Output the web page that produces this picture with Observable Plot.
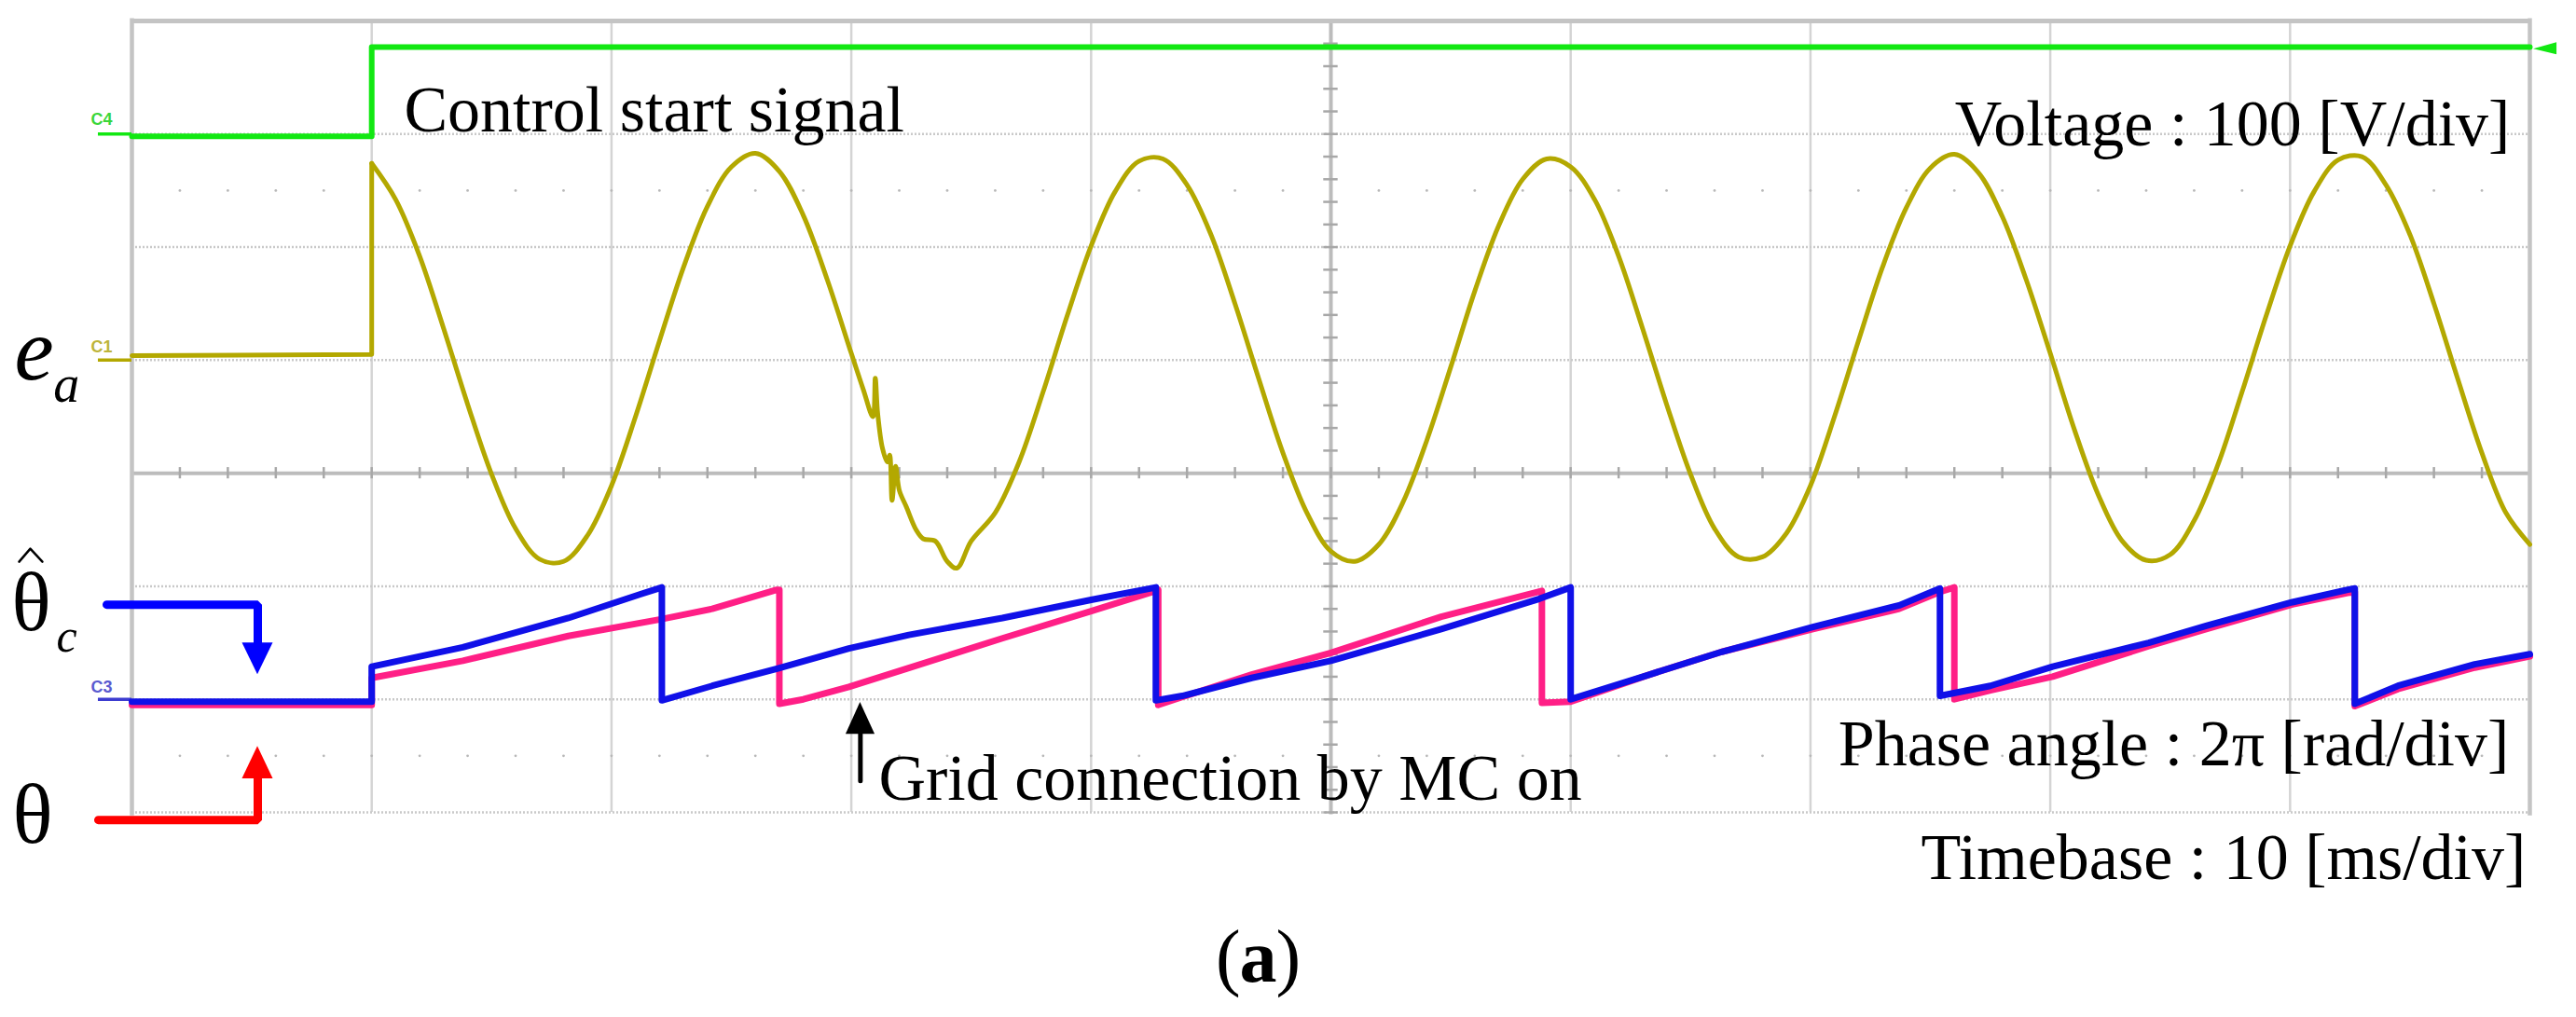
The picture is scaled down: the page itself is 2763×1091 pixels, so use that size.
<!DOCTYPE html>
<html>
<head>
<meta charset="utf-8">
<script src="https://cdn.jsdelivr.net/npm/d3@7"></script>
<script src="https://cdn.jsdelivr.net/npm/@observablehq/plot@0.6"></script>
<style>
html, body { margin: 0; padding: 0; background: #ffffff; }
#chart svg { display: block; }
</style>
</head>
<body>
<div id="chart"></div>
<script>
// ---------------- channel settings (oscilloscope) ----------------
const V_PER_DIV = 100;            // Voltage : 100 [V/div]
const RAD_PER_DIV = 2 * Math.PI;  // Phase angle : 2π [rad/div]
const CTRL_V_PER_DIV = 5;         // control signal channel
const C4_ZERO = 3, C1_ZERO = 1, C3_ZERO = -2; // ground markers (div)

// ---------------- C4 : control start signal ----------------
const ctrlTime  = [0, 10, 10, 100];            // ms
const ctrlVolts = [-0.1, -0.1, 3.85, 3.85];    // V

// ---------------- C1 : e_a (grid voltage) ----------------
const preTime  = [0, 10, 10];
const preVolts = [4, 5, 174];
const eaTime = [
  10, 11, 12, 13, 14, 15, 16, 17, 18, 19,
  20, 21, 22, 23, 24, 25, 26, 27, 28, 29,
  30, 30.5, 30.9, 31.0, 31.1, 31.3, 31.5, 31.6, 31.7, 31.85,
  32.0, 32.3, 32.7, 33.0, 33.5, 34.0, 34.4, 35, 36, 37,
  38, 39, 40, 41, 42, 43, 44, 45, 46, 47,
  48, 49, 50, 51, 52, 53, 54, 55, 56, 57,
  58, 59, 60, 61, 62, 63, 64, 65, 66, 67,
  68, 69, 70, 71, 72, 73, 74, 75, 76, 77,
  78, 79, 80, 81, 82, 83, 84, 85, 86, 87,
  88, 89, 90, 91, 92, 93, 94, 95, 96, 97,
  98, 99, 100
];
const eaVolts = [
  174, 142, 92, 28, -39, -101, -149, -176, -178, -155,
  -111, -50, 17, 82, 136, 171, 183, 167, 128, 71,
  6, -26, -50, -16, -47, -78, -90, -84, -124, -94,
  -115, -130, -150, -158, -160, -178, -184, -160, -135, -90,
  -28, 39, 101, 149, 176, 178, 155, 111, 50, -17,
  -82, -135, -169, -178, -163, -126, -71, -6, 61, 119,
  160, 178, 171, 142, 92, 28, -39, -101, -149, -174,
  -174, -153, -111, -50, 17, 82, 135, 170, 182, 166,
  127, 71, 6, -61, -119, -160, -177, -172, -142, -92,
  -28, 39, 101, 149, 177, 180, 155, 111, 50, -17,
  -82, -135, -163
];

// ---------------- C3 : phase angles ----------------
// estimated phase (blue)
const thetaHatTime = [0, 10, 10, 13.8, 18.2, 21.2, 22.1, 22.1, 24.2, 26.9, 29.9, 32.4, 36.3, 40.0, 42.7, 42.7,
  43.8, 46.7, 50.0, 54.6, 58.7, 60.0, 60.0, 63.3, 66.3, 70.1, 73.7, 75.4, 75.4, 77.5, 80.1, 84.1, 86.5, 90.1,
  92.4, 92.7, 92.7, 94.5, 97.7, 100];
const thetaHatRad = [-0.13, -0.13, 1.82, 2.89, 4.52, 5.84, 6.22, -0.06, 0.75, 1.70, 2.83, 3.58, 4.52, 5.53, 6.22, -0.06,
  0.19, 1.19, 2.14, 3.90, 5.59, 6.22, 0.00, 1.38, 2.64, 4.02, 5.22, 6.16, 0.19, 0.75, 1.82, 3.14, 4.08, 5.40,
  6.09, 6.16, -0.25, 0.75, 1.95, 2.51];
// grid phase (pink)
const thetaTime = [0, 10, 10, 13.8, 18.2, 22.1, 24.2, 26.9, 27.0, 27.0, 28.0, 29.9, 32.3, 36.3, 40.0, 42.7, 42.8, 42.8,
  43.8, 46.7, 50.0, 54.6, 58.8, 58.8, 60.0, 63.3, 66.3, 70.1, 73.7, 75.4, 76.0, 76.0, 77.5, 80.1, 84.1, 86.5,
  90.1, 92.4, 92.7, 92.7, 94.5, 97.7, 100];
const thetaRad = [-0.31, -0.31, 1.19, 2.14, 3.52, 4.46, 5.03, 6.09, 6.09, -0.25, 0.00, 0.69, 1.70, 3.39, 4.90, 6.03, 6.09, -0.31,
  0.13, 1.38, 2.58, 4.59, 6.03, -0.19, -0.13, 1.38, 2.64, 3.90, 5.03, 5.97, 6.22, 0.00, 0.50, 1.26, 2.95, 3.90,
  5.28, 5.91, 5.97, -0.38, 0.57, 1.76, 2.39];

// ---------------- text ----------------
const labelsStart = [
  {t: 11.35, d: 3.026, text: "Control start signal"},
  {t: 31.14, d: -2.886, text: "Grid connection by MC on"}
];
const labelsEnd = [
  {t: 99.18, d: 2.902, text: "Voltage : 100 [V/div]"},
  {t: 99.14, d: -2.581, text: "Phase angle : 2π [rad/div]"},
  {t: 99.84, d: -3.586, text: "Timebase : 10 [ms/div]"}
];

// ---------------- colours ----------------
const GREEN = "#12e812", OLIVE = "#b3a800", BLUE = "#1010e8", PINK = "#ff1f86";
const SERIF = "Liberation Serif, Times New Roman, serif";

// ---------------- build tables ----------------
const ctrl = ctrlTime.map((t, i) => ({t, y: C4_ZERO + ctrlVolts[i] / CTRL_V_PER_DIV}));
const pre = preTime.map((t, i) => ({t, y: C1_ZERO + preVolts[i] / V_PER_DIV}));
const ea = eaTime.map((t, i) => ({t, y: C1_ZERO + eaVolts[i] / V_PER_DIV}));
const thHat = thetaHatTime.map((t, i) => ({t, y: C3_ZERO + thetaHatRad[i] / RAD_PER_DIV}));
const th = thetaTime.map((t, i) => ({t, y: C3_ZERO + thetaRad[i] / RAD_PER_DIV}));

const vDiv = [10, 20, 30, 40, 60, 70, 80, 90];
const hDiv = [3, 2, 1, -1, -2, -3];
const xMinor = d3.range(2, 100, 2);
const yMinor = d3.range(-3, 4.01, 0.2).map(v => Math.round(v * 10) / 10).filter(v => v !== 0);
const dotRows = xMinor.flatMap(t => [{t, y: 2.5}, {t, y: -2.5}]);

const GRID = "#c9c9c9";

const chart = Plot.plot({
  width: 2763,
  height: 1091,
  marginLeft: 141,
  marginRight: 50,
  marginTop: 22,
  marginBottom: 220,
  x: {domain: [0, 100], axis: null},
  y: {domain: [-3, 4], axis: null},
  style: {background: "#ffffff", overflow: "visible"},
  marks: [
    // graticule
    Plot.ruleX(vDiv, {y1: -3, y2: 4, stroke: "#d4d4d4", strokeWidth: 2.5}),
    Plot.ruleY(hDiv, {x1: 0, x2: 100, stroke: GRID, strokeWidth: 2.5, strokeDasharray: "2,2"}),
    Plot.dot(dotRows, {x: "t", y: "y", r: 1.4, fill: "#b8b8b8"}),
    Plot.ruleX([50], {y1: -3.02, y2: 4, stroke: "#bcbcbc", strokeWidth: 4}),
    Plot.ruleY([0], {x1: 0, x2: 100, stroke: "#bcbcbc", strokeWidth: 4}),
    Plot.ruleX(xMinor, {y1: -0.05, y2: 0.05, stroke: "#a8a8a8", strokeWidth: 2.5}),
    Plot.ruleY(yMinor, {x1: 49.7, x2: 50.3, stroke: "#a8a8a8", strokeWidth: 2.5}),
    Plot.ruleX([0, 100], {y1: -3.03, y2: 4.02, stroke: "#c4c4c4", strokeWidth: 4.5}),
    Plot.ruleY([4], {x1: 0, x2: 100, stroke: "#c4c4c4", strokeWidth: 5}),

    // channel ground markers
    Plot.ruleY([C4_ZERO], {x1: -1.4, x2: 0, stroke: GREEN, strokeWidth: 3.5}),
    Plot.ruleY([C1_ZERO], {x1: -1.4, x2: 0, stroke: OLIVE, strokeWidth: 3.5}),
    Plot.ruleY([C3_ZERO], {x1: -1.4, x2: 0, stroke: "#3c3cd0", strokeWidth: 3.5}),
    Plot.text([{t: -1.71, d: 3.084, s: "C4"}], {x: "t", y: "d", text: "s", textAnchor: "start", lineAnchor: "bottom", fontFamily: "Liberation Sans, Arial, sans-serif", fontSize: 18, fontWeight: "bold", fill: "#3ad63a"}),
    Plot.text([{t: -1.71, d: 1.072, s: "C1"}], {x: "t", y: "d", text: "s", textAnchor: "start", lineAnchor: "bottom", fontFamily: "Liberation Sans, Arial, sans-serif", fontSize: 18, fontWeight: "bold", fill: "#bdb43a"}),
    Plot.text([{t: -1.71, d: -1.937, s: "C3"}], {x: "t", y: "d", text: "s", textAnchor: "start", lineAnchor: "bottom", fontFamily: "Liberation Sans, Arial, sans-serif", fontSize: 18, fontWeight: "bold", fill: "#5a5ad0"}),

    // traces
    Plot.line(ctrl, {x: "t", y: "y", stroke: GREEN, strokeWidth: 6}),
    Plot.areaX([{y: 3.702, a: 101.13, b: 101.13}, {y: 3.751, a: 101.13, b: 100.16}, {y: 3.809, a: 101.13, b: 101.13}],
      {y: "y", x1: "a", x2: "b", fill: GREEN}),
    Plot.line(pre, {x: "t", y: "y", stroke: OLIVE, strokeWidth: 5}),
    Plot.line(ea, {x: "t", y: "y", stroke: OLIVE, strokeWidth: 5, curve: "catmull-rom"}),
    Plot.line(th, {x: "t", y: "y", stroke: PINK, strokeWidth: 7}),
    Plot.line(thHat, {x: "t", y: "y", stroke: BLUE, strokeWidth: 7}),

    // annotations
    Plot.text(labelsStart, {x: "t", y: "d", text: "text", textAnchor: "start", lineAnchor: "bottom", fontFamily: SERIF, fontSize: 70, fill: "#000"}),
    Plot.text(labelsEnd, {x: "t", y: "d", text: "text", textAnchor: "end", lineAnchor: "bottom", fontFamily: SERIF, fontSize: 70, fill: "#000"}),

    // grid connection arrow
    Plot.line([{t: 30.38, d: -2.721}, {t: 30.38, d: -2.29}], {x: "t", y: "d", stroke: "#000", strokeWidth: 5}),
    Plot.areaY([{t: 29.78, a: -2.309, b: -2.309}, {t: 30.38, a: -2.309, b: -2.028}, {t: 30.99, a: -2.309, b: -2.309}],
      {x: "t", y1: "a", y2: "b", fill: "#000"}),

    // left labels
    Plot.text([{t: -4.90, d: 0.833, s: "e"}], {x: "t", y: "d", text: "s", textAnchor: "start", lineAnchor: "bottom", fontFamily: SERIF, fontSize: 95, fontStyle: "italic", fill: "#000"}),
    Plot.text([{t: -3.28, d: 0.635, s: "a"}], {x: "t", y: "d", text: "s", textAnchor: "start", lineAnchor: "bottom", fontFamily: SERIF, fontSize: 56, fontStyle: "italic", fill: "#000"}),
    Plot.text([{t: -5.02, d: -1.385, s: "θ"}], {x: "t", y: "d", text: "s", textAnchor: "start", lineAnchor: "bottom", fontFamily: SERIF, fontSize: 88, fill: "#000"}),
    Plot.line([{t: -4.705, d: -0.783}, {t: -4.238, d: -0.668}, {t: -3.733, d: -0.783}], {x: "t", y: "d", stroke: "#000", strokeWidth: 2.5}),
    Plot.text([{t: -3.15, d: -1.575, s: "c"}], {x: "t", y: "d", text: "s", textAnchor: "start", lineAnchor: "bottom", fontFamily: SERIF, fontSize: 50, fontStyle: "italic", fill: "#000"}),
    Plot.text([{t: -4.98, d: -3.265, s: "θ"}], {x: "t", y: "d", text: "s", textAnchor: "start", lineAnchor: "bottom", fontFamily: SERIF, fontSize: 90, fill: "#000"}),

    // blue (θ̂c) and red (θ) pointer arrows
    Plot.line([{t: -1.05, d: -1.1625}, {t: 5.249, d: -1.1625}, {t: 5.249, d: -1.51}], {x: "t", y: "d", stroke: "#0000ff", strokeWidth: 9, strokeLinejoin: "miter"}),
    Plot.areaY([{t: 4.607, a: -1.5006, b: -1.5006}, {t: 5.249, a: -1.5006, b: -1.781}, {t: 5.890, a: -1.5006, b: -1.5006}],
      {x: "t", y1: "a", y2: "b", fill: "#0000ff"}),
    Plot.line([{t: -1.40, d: -3.067}, {t: 5.249, d: -3.067}, {t: 5.249, d: -2.69}], {x: "t", y: "d", stroke: "#ff0000", strokeWidth: 9, strokeLinejoin: "miter"}),
    Plot.areaY([{t: 4.607, a: -2.704, b: -2.704}, {t: 5.249, a: -2.704, b: -2.416}, {t: 5.890, a: -2.704, b: -2.704}],
      {x: "t", y1: "a", y2: "b", fill: "#ff0000"}),

    // caption (a)
    Plot.text([{t: 46.23, d: -4.493, s: "("}], {x: "t", y: "d", text: "s", textAnchor: "end", lineAnchor: "bottom", fontFamily: SERIF, fontSize: 80, fill: "#000"}),
    Plot.text([{t: 46.97, d: -4.493, s: "a"}], {x: "t", y: "d", text: "s", textAnchor: "middle", lineAnchor: "bottom", fontFamily: SERIF, fontSize: 80, fontWeight: "bold", fill: "#000"}),
    Plot.text([{t: 47.71, d: -4.493, s: ")"}], {x: "t", y: "d", text: "s", textAnchor: "start", lineAnchor: "bottom", fontFamily: SERIF, fontSize: 80, fill: "#000"})
  ]
});
document.getElementById("chart").appendChild(chart);
</script>
</body>
</html>
